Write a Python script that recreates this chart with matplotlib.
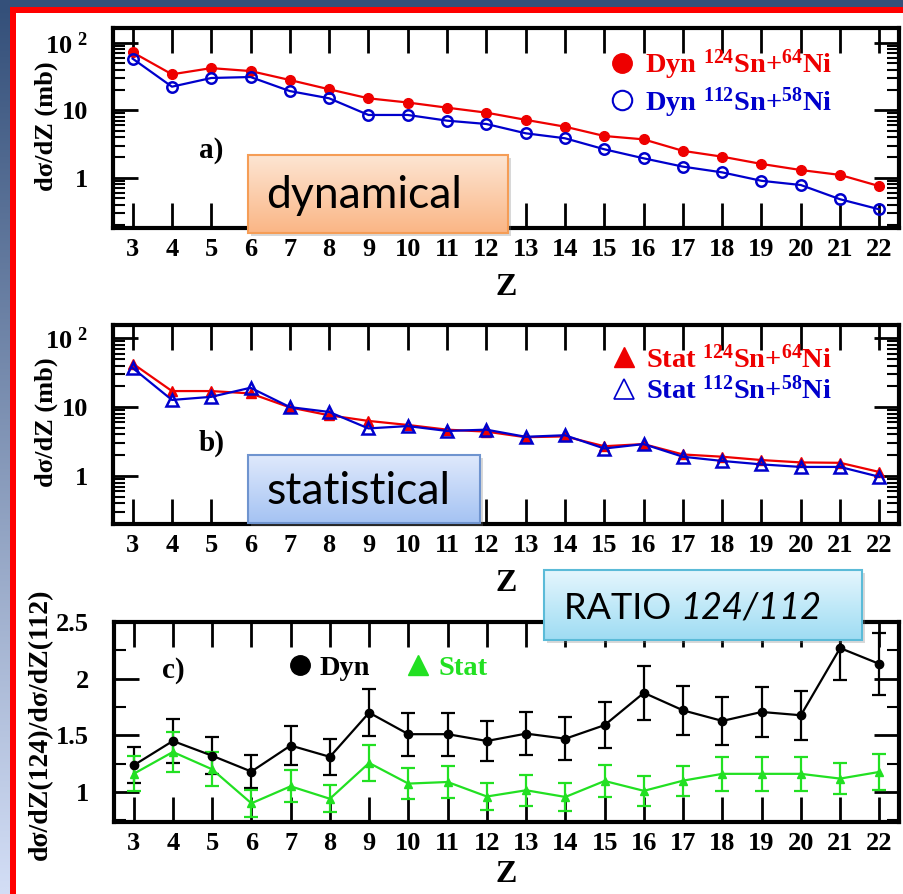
import numpy as np
import matplotlib
matplotlib.use('Agg')
import matplotlib.pyplot as plt
from matplotlib.lines import Line2D
from matplotlib.patches import Rectangle
from matplotlib.colors import to_rgb
from matplotlib.ticker import FixedLocator, FixedFormatter, LogLocator, NullFormatter, MultipleLocator

plt.rcParams['font.family'] = ['Liberation Serif', 'DejaVu Serif']
plt.rcParams['font.weight'] = 'bold'
plt.rcParams['axes.labelweight'] = 'bold'
plt.rcParams['mathtext.fontset'] = 'custom'
plt.rcParams['mathtext.rm'] = 'Liberation Serif:bold'
plt.rcParams['mathtext.default'] = 'rm'

# Z of the fragment
Z = [3, 4, 5, 6, 7, 8, 9, 10, 11, 12, 13, 14, 15, 16, 17, 18, 19, 20, 21, 22]

# a) dynamical cross sections (mb)
dyn_124 = [72, 34, 42, 38, 28, 20.4, 15, 13, 10.9, 9.2, 7.2, 5.7, 4.15, 3.7, 2.5, 2.05, 1.6, 1.3, 1.1, 0.75]
dyn_112 = [58, 22.3, 30, 31, 19.2, 15, 8.5, 8.5, 7.0, 6.25, 4.55, 3.84, 2.64, 1.94, 1.46, 1.2, 0.9, 0.78, 0.48, 0.34]

# b) statistical cross sections (mb)
stat_124 = [43, 17.1, 17.1, 15.8, 9.9, 7.6, 6.3, 5.5, 4.7, 4.4, 3.65, 3.75, 2.7, 2.9, 2.05, 1.9, 1.7, 1.57, 1.55, 1.14]
stat_112 = [37, 12.7, 14.1, 19.1, 10, 8.5, 4.9, 5.3, 4.5, 4.7, 3.7, 3.9, 2.5, 2.9, 1.9, 1.65, 1.47, 1.35, 1.35, 0.97]

# c) ratio 124/112 with errors
ratio_dyn = [1.235, 1.45, 1.32, 1.18, 1.41, 1.31, 1.70, 1.51, 1.51, 1.45, 1.515, 1.47, 1.59, 1.875, 1.72, 1.627, 1.706, 1.677, 2.27, 2.13]
ratio_dyn_err = [0.16, 0.19, 0.165, 0.145, 0.175, 0.16, 0.21, 0.19, 0.19, 0.18, 0.19, 0.19, 0.2, 0.24, 0.215, 0.21, 0.22, 0.215, 0.28, 0.27]
ratio_stat = [1.16, 1.353, 1.20, 0.90, 1.05, 0.94, 1.256, 1.074, 1.088, 0.96, 1.015, 0.956, 1.097, 1.01, 1.10, 1.16, 1.16, 1.16, 1.118, 1.177]
ratio_stat_err = [0.155, 0.175, 0.15, 0.12, 0.14, 0.12, 0.16, 0.135, 0.14, 0.12, 0.135, 0.12, 0.14, 0.13, 0.133, 0.15, 0.15, 0.15, 0.138, 0.158]

RED = '#ee0000'
BLUE = '#0000cc'
GREEN = '#22e022'

fig = plt.figure(figsize=(9.04, 8.94), dpi=100)
W, H = 904, 894


def add_panel(top, bottom, left=113, right=899):
    return fig.add_axes([left / W, 1 - bottom / H, (right - left) / W, (bottom - top) / H])


def style(ax, zpad=9):
    ax.set_xlim(2.5, 22.5)
    ax.set_xticks(Z)
    ax.tick_params(axis='both', which='both', direction='in', top=True, right=True, width=2, labelsize=19)
    ax.tick_params(which='major', length=18)
    ax.tick_params(which='minor', length=8.5, width=1.5)
    ax.tick_params(axis='x', pad=7)
    ax.tick_params(axis='y', pad=18)
    for s in ax.spines.values():
        s.set_linewidth(3)
    ax.set_xlabel('Z', fontsize=23, labelpad=zpad)


def log_y(ax, lo, hi):
    ax.set_yscale('log')
    ax.set_ylim(lo, hi)
    ax.yaxis.set_major_locator(FixedLocator([1, 10, 100]))
    ax.yaxis.set_major_formatter(FixedFormatter(['1', '10', r'10$^{\ 2}$']))
    ax.yaxis.set_minor_locator(LogLocator(base=10, subs=np.arange(2, 10)))
    ax.yaxis.set_minor_formatter(NullFormatter())


# ---- panel a
ax1 = add_panel(28, 228)
ax1.plot(Z, dyn_124, color=RED, marker='o', ms=7, lw=1.6)
ax1.plot(Z, dyn_112, color=BLUE, marker='o', ms=7.5, mfc='none', mew=1.8, lw=1.6)
log_y(ax1, 0.18, 165)
style(ax1)
ax1.set_ylabel('dσ/dZ (mb)', fontsize=19)
ax1.yaxis.set_label_coords(-0.07, 0.51)
ax1.text(0.109, 0.39, 'a)', transform=ax1.transAxes, fontsize=21, va='center')
h = [Line2D([], [], ls='none', marker='o', ms=14, color=RED),
     Line2D([], [], ls='none', marker='o', ms=14, mfc='none', mec=BLUE, mew=1.5)]
ax1.legend(h, ['Dyn $^{124}$Sn+$^{64}$Ni', 'Dyn $^{112}$Sn+$^{58}$Ni'], loc='upper right',
           bbox_to_anchor=(0.915, 0.9), frameon=False, handlelength=0.8, handletextpad=0.4,
           labelspacing=0.1, fontsize=20.5, labelcolor=[RED, BLUE], borderpad=0, borderaxespad=0)

# ---- panel b
ax2 = add_panel(325, 524)
ax2.plot(Z, stat_124, color=RED, marker='^', ms=7, lw=1.6)
ax2.plot(Z, stat_112, color=BLUE, marker='^', ms=8, mfc='none', mew=1.8, lw=1.6)
log_y(ax2, 0.2, 156)
style(ax2)
ax2.set_ylabel('dσ/dZ (mb)', fontsize=19)
ax2.yaxis.set_label_coords(-0.07, 0.51)
ax2.text(0.109, 0.405, 'b)', transform=ax2.transAxes, fontsize=21, va='center')
h = [Line2D([], [], ls='none', marker='^', ms=14, color=RED),
     Line2D([], [], ls='none', marker='^', ms=14, mfc='none', mec=BLUE, mew=1.2)]
ax2.legend(h, ['Stat $^{124}$Sn+$^{64}$Ni', 'Stat $^{112}$Sn+$^{58}$Ni'], loc='upper right',
           bbox_to_anchor=(0.915, 0.9), frameon=False, handlelength=0.8, handletextpad=0.4,
           labelspacing=0.1, fontsize=20.5, labelcolor=[RED, BLUE], borderpad=0, borderaxespad=0)

# ---- panel c
ax3 = add_panel(622, 822, left=114)
ax3.errorbar(Z, ratio_dyn, yerr=ratio_dyn_err, color='black', marker='o', ms=6, lw=1.6,
             elinewidth=1.6, capsize=5, capthick=1.6)
ax3.errorbar(Z, ratio_stat, yerr=ratio_stat_err, color=GREEN, marker='^', ms=6, lw=1.6,
             elinewidth=1.6, capsize=5, capthick=1.6)
ax3.set_ylim(0.735, 2.5)
ax3.yaxis.set_major_locator(FixedLocator([1, 1.5, 2, 2.5]))
ax3.yaxis.set_major_formatter(FixedFormatter(['1', '1.5', '2', '2.5']))
ax3.yaxis.set_minor_locator(MultipleLocator(0.25))
style(ax3, zpad=4)
ax3.set_ylabel('dσ/dZ(124)/dσ/dZ(112)', fontsize=20)
ax3.yaxis.set_label_coords(-0.078, 0.49)
ax3.text(0.061, 0.76, 'c)', transform=ax3.transAxes, fontsize=21, va='center')
h = [Line2D([], [], ls='none', marker='o', ms=14, color='black'),
     Line2D([], [], ls='none', marker='^', ms=14, color=GREEN)]
ax3.legend(h, ['Dyn', 'Stat'], loc='upper left', ncol=2, bbox_to_anchor=(0.222, 0.835),
           frameon=False, handlelength=0.8, handletextpad=0.3, columnspacing=1.3,
           fontsize=20.5, labelcolor=['black', GREEN], borderpad=0, borderaxespad=0)

# ---- slide decoration and callout boxes (pixel coordinates)
ov = fig.add_axes([0, 0, 1, 1], zorder=10)
ov.patch.set_visible(False)
ov.set_axis_off()


def gradient(ax, x0, y0, x1, y1, c_top, c_bot, z=2):
    t = np.linspace(0, 1, 64)[:, None]
    img = np.array(to_rgb(c_top)) * (1 - t) + np.array(to_rgb(c_bot)) * t
    ax.imshow(img[:, None, :], extent=(x0, x1, y1, y0), aspect='auto', zorder=z, interpolation='bilinear')


def callout(ax, x0, y0, x1, y1, c_top, c_bot, edge):
    ax.add_patch(Rectangle((x0 + 3, y0 + 3), x1 - x0, y1 - y0, color='gray', alpha=0.3, lw=0, zorder=1))
    gradient(ax, x0, y0, x1, y1, c_top, c_bot)
    ax.add_patch(Rectangle((x0, y0), x1 - x0, y1 - y0, fill=False, ec=edge, lw=1.5, zorder=3))


# frame of the slide
gradient(ov, 0, 0, 10, H, '#34507a', '#d2ddf5', z=1)
ov.add_patch(Rectangle((0, 0), W, 7, color='#34507a', lw=0, zorder=1))
ov.add_patch(Rectangle((10, 7), W - 10, 6, color='#ff0000', lw=0, zorder=2))
ov.add_patch(Rectangle((10, 7), 6, H - 7, color='#ff0000', lw=0, zorder=2))

callout(ov, 248, 155, 508, 233, '#fde5d2', '#fab686', '#f59d56')
ov.text(266, 196, 'dynamical', fontfamily='Lato', fontweight='normal', fontsize=32,
        va='center', ha='left', zorder=4)

callout(ov, 248, 455, 480, 523, '#dfe9fc', '#a5c3f3', '#6f94cf')
ov.text(266, 492, 'statistical', fontfamily='Lato', fontweight='normal', fontsize=32,
        va='center', ha='left', zorder=4)

callout(ov, 544, 570, 862, 640, '#e4f6fd', '#9fdcf3', '#5bbbd8')
t1 = ov.text(564, 625, 'RATIO ', fontfamily='Lato', fontweight='normal', fontsize=26,
             va='bottom', ha='left', zorder=4)
ov.annotate('124/112', xy=(1, 0), xycoords=t1, fontfamily='Lato', fontweight='normal',
            fontstyle='italic', fontsize=26, va='bottom', ha='left', zorder=4)

ov.set_xlim(0, W)
ov.set_ylim(H, 0)

fig.savefig('out.png', dpi=100)
